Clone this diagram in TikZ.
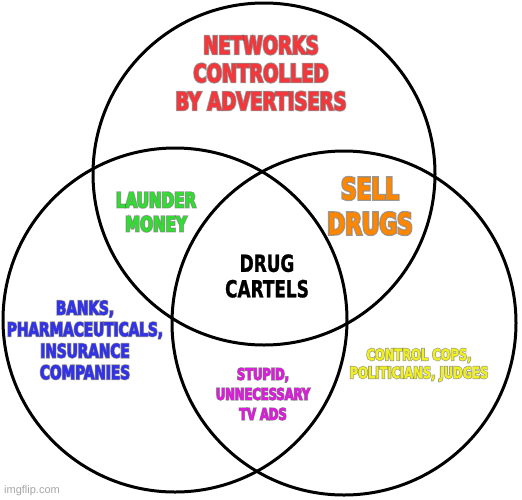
\documentclass[tikz,border=0pt]{standalone}
\usepackage{fontspec}
\setmainfont{Liberation Sans}
\newfontfamily\impact[FakeStretch=0.8,FakeBold=1.2]{DejaVu Sans Condensed Bold}
\newfontfamily\impacthalo[FakeStretch=0.8,FakeBold=9]{DejaVu Sans Condensed Bold}

% one label with a dark halo behind it
\newcommand{\vennlabel}[6]{%
\node[halo, font={\impacthalo\fontsize{#4}{#5}\selectfont}] at (#2) {#6};
\node[region, text=#3, font={\impact\fontsize{#4}{#5}\selectfont}] (#1) at (#2) {#6};
}

\definecolor{netred}{RGB}{245,55,60}
\definecolor{moneygreen}{RGB}{50,220,50}
\definecolor{drugorange}{RGB}{255,135,0}
\definecolor{bankblue}{RGB}{50,50,235}
\definecolor{admagenta}{RGB}{220,30,220}
\definecolor{copyellow}{RGB}{240,240,30}

\begin{document}
\begin{tikzpicture}[x=1pt,y=-1pt]
\tikzstyle{region} = [align=center, inner sep=0pt]
\tikzstyle{halo} = [align=center, inner sep=0pt, text=black, text opacity=0.4]
\tikzstyle{ring} = [line width=3pt]

\useasboundingbox[fill=white] (0,0) rectangle (522,499);

\draw[ring] (264,174) circle (171);
\draw[ring] (175,320) circle (172);
\draw[ring] (344,323) circle (172);

\vennlabel{networks}{261,73}{netred}{25}{28}{NETWORKS\\CONTROLLED\\BY ADVERTISERS}
\vennlabel{launder}{156,212}{moneygreen}{21}{24}{LAUNDER\\MONEY}
\vennlabel{sell}{370,206}{drugorange}{30}{35}{SELL\\DRUGS}
\vennlabel{banks}{85,340}{bankblue}{19}{21.5}{BANKS,\\PHARMACEUTICALS,\\INSURANCE\\COMPANIES}
\vennlabel{stupid}{263,394}{admagenta}{16}{20}{STUPID,\\UNNECESSARY\\TV ADS}
\vennlabel{control}{419,365}{copyellow}{16}{18}{CONTROL COPS,\\POLITICIANS, JUDGES}

\node[region, font={\impact\fontsize{23.5}{25.5}\selectfont}] (cartels) at (267,276) {DRUG\\CARTELS};

\node[region, text=gray!70, font={\fontsize{11}{12}\selectfont}] (imgflip) at (32,491) {imgflip.com};

\end{tikzpicture}
\end{document}
